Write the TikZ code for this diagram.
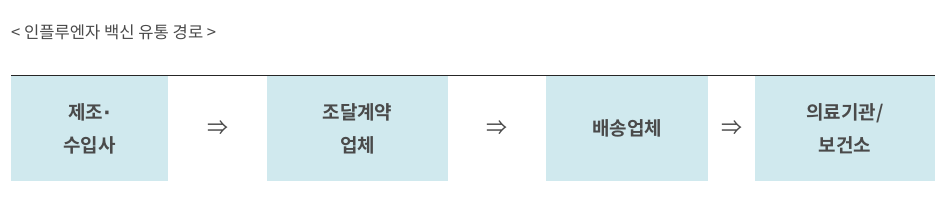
\documentclass[tikz,border=0pt]{standalone}
\usepackage{fontspec}
\setmainfont{Noto Sans CJK KR}[BoldFont={Noto Sans CJK KR Bold}]
\newfontfamily\latinfont{DejaVu Sans}
\usetikzlibrary{positioning,calc}
\definecolor{boxfill}{HTML}{D0E9EE}
\definecolor{txtgray}{HTML}{4A4A4A}
\newcommand{\middot}{{\latinfont\bfseries ·}}
\tikzset{
  stagebox/.style={fill=boxfill, draw=none, minimum height=105pt, inner sep=0pt,
    align=center, text=txtgray, font=\fontsize{19}{33}\selectfont\bfseries},
  flowarr/.style={text=txtgray, inner sep=0pt, font=\fontsize{21}{21}\selectfont}
}
\begin{document}
\begin{tikzpicture}[x=1pt,y=-1pt]
\useasboundingbox (0,0) rectangle (950,206);
% title
\node[anchor=west, text=txtgray, inner sep=0pt, font=\fontsize{16.6}{16.6}\selectfont] (title) at (11,32) {< 인플루엔자 백신 유통 경로 >};
% top rule
\coordinate (ruleL) at (11,75);
\coordinate (ruleR) at (935,75);
\draw[line width=1pt, black!85] (ruleL) -- (ruleR);
% stages
\node[stagebox, minimum width=157pt] (maker) at (89.5,128.5) {제조\middot\\수입사};
\node[stagebox, minimum width=181pt] (contract) at (357.5,128.5) {조달계약\\업체};
\node[stagebox, minimum width=162pt] (ship) at (627,128.5) {배송업체};
\node[stagebox, minimum width=180pt] (clinic) at (845,128.5) {의료기관/\\보건소};
% arrows
\node[flowarr] (a1) at ($(maker.east)!0.5!(contract.west)$) {⇒};
\node[flowarr] (a2) at ($(contract.east)!0.5!(ship.west)$) {⇒};
\node[flowarr] (a3) at ($(ship.east)!0.5!(clinic.west)$) {⇒};
\end{tikzpicture}
\end{document}
